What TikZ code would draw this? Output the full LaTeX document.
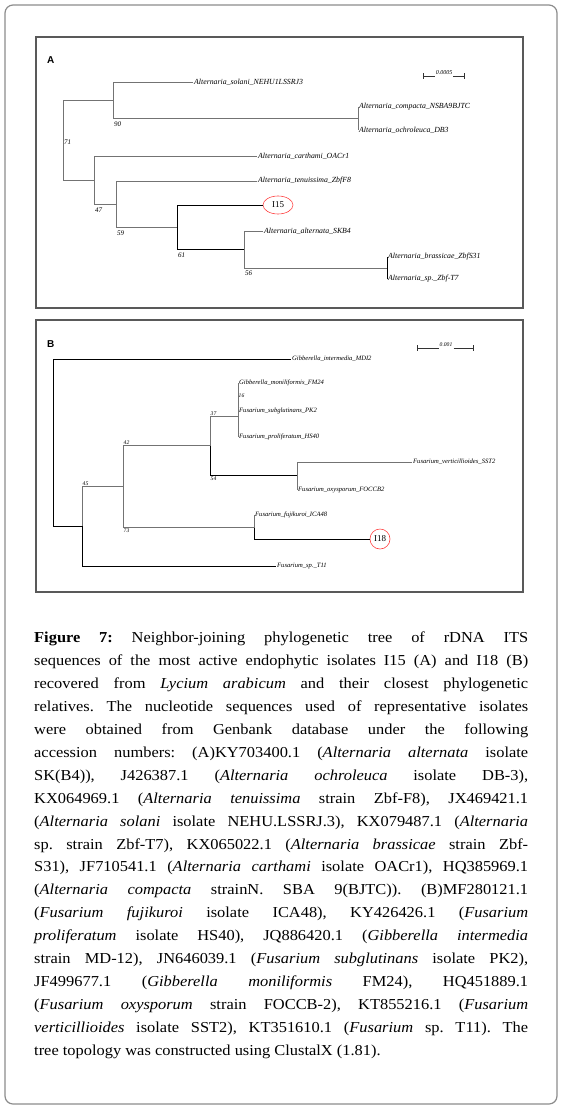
\documentclass[tikz,border=0pt]{standalone}
\usepackage{fontspec}
\setmainfont{Liberation Serif}
\newfontfamily\panelfont{Liberation Sans}
\newfontfamily\captionfont{Liberation Serif}[FakeStretch=1.08]
\usetikzlibrary{shapes.geometric}

\begin{document}
\begin{tikzpicture}[x=1pt,y=-1pt,
    branch/.style={draw=black!55, line width=0.8pt},
    darkbranch/.style={draw=black, line width=1pt},
    leafA/.style={anchor=west, inner sep=1pt, font=\fontsize{7.8}{8}\selectfont\itshape},
    leafB/.style={anchor=west, inner sep=1pt, font=\fontsize{6.6}{7}\selectfont\itshape},
    bootA/.style={inner sep=1pt, font=\fontsize{7}{7}\selectfont\itshape},
    bootB/.style={inner sep=0.5pt, font=\fontsize{5.6}{6}\selectfont\itshape},
    panelbox/.style={draw=black!65, line width=1.6pt},
    panellabel/.style={anchor=west, inner sep=0pt, font=\panelfont\bfseries\fontsize{10}{10}\selectfont},
    isolate/.style={draw=red!75, line width=0.6pt, inner sep=0pt, font=\fontsize{9}{9}\selectfont},
    scalebar/.style={draw=black!80, line width=0.6pt}]

    \useasboundingbox (0,0) rectangle (562,1109);
    \draw[black!45, line width=1.2pt, rounded corners=8pt] (5,5) rectangle (557,1104);

    % panel A
    \draw[panelbox] (36,37) rectangle (523,308);
    \node[panellabel] (labA) at (47,60) {A};

    \coordinate (rA) at (63,140.2);
    \coordinate (n90) at (113,100.25);
    \coordinate (cpt) at (358,118.5);
    \coordinate (n47) at (94,180.2);
    \coordinate (n59) at (116,204.4);
    \coordinate (n61) at (177,227.75);
    \coordinate (n56) at (244,249.5);
    \coordinate (nbr) at (387,268);

    \node[leafA] (solani) at (193,82) {Alternaria\_solani\_NEHU1LSSRJ3};
    \node[leafA] (compacta) at (358,107) {Alternaria\_compacta\_NSBA9BJTC};
    \node[leafA] (ochro) at (358,130) {Alternaria\_ochroleuca\_DB3};
    \node[leafA] (carthami) at (257,156) {Alternaria\_carthami\_OACr1};
    \node[leafA] (tenuis) at (257,181) {Alternaria\_tenuissima\_ZbfF8};
    \node[isolate, ellipse, minimum width=30pt, minimum height=18pt] (i15) at (278,205) {I15};
    \node[leafA] (altern) at (263,231) {Alternaria\_alternata\_SKB4};
    \node[leafA] (brass) at (387,257) {Alternaria\_brassicae\_ZbfS31};
    \node[leafA] (altsp) at (387,279) {Alternaria\_sp.\_Zbf-T7};

    \draw[branch] (rA) |- (n90);
    \draw[branch] (rA) |- (n47);
    \draw[branch] (n90) |- (solani.west);
    \draw[branch] (n90) |- (cpt);
    \draw[branch] (cpt) |- (compacta.west);
    \draw[branch] (cpt) |- (ochro.west);
    \draw[branch] (n47) |- (carthami.west);
    \draw[branch] (n47) |- (n59);
    \draw[branch] (n59) |- (tenuis.west);
    \draw[branch] (n59) |- (n61);
    \draw[darkbranch] (n61) |- (i15.west);
    \draw[darkbranch] (n61) |- (n56);
    \draw[branch] (n56) |- (altern.west);
    \draw[branch] (n56) |- (nbr);
    \draw[darkbranch] (nbr) |- (brass.west);
    \draw[darkbranch] (nbr) |- (altsp.west);

    \node[bootA, anchor=west] (b71) at ([yshift=-2pt]rA) {71};
    \node[bootA, anchor=north west, yshift=-2pt] (b90) at (n90 |- cpt) {90};
    \node[bootA, anchor=north west, yshift=-2pt] (b47) at (n47 |- n59) {47};
    \node[bootA, anchor=north west, yshift=-2pt] (b59) at (n59 |- n61) {59};
    \node[bootA, anchor=north west, yshift=-2pt] (b61) at (n61 |- n56) {61};
    \node[bootA, anchor=north west, yshift=-2pt] (b56) at (n56 |- nbr) {56};

    % scale A
    \coordinate (sa1) at (423,76);
    \coordinate (sa2) at (465,76);
    \node[inner sep=1pt, font=\fontsize{6}{6}\selectfont\itshape] (scaleA) at (444,73) {0.0005};
    \draw[scalebar, |-] (sa1) -- (scaleA.west |- sa1);
    \draw[scalebar, -|] (scaleA.east |- sa2) -- (sa2);

    % panel B
    \draw[panelbox] (36,320) rectangle (523,592);
    \node[panellabel] (labB) at (47,344) {B};

    \coordinate (rB) at (53,442.5);
    \coordinate (n45) at (82,526);
    \coordinate (n42) at (123,486.5);
    \coordinate (n37) at (210,445.5);
    \coordinate (n16) at (238,416);
    \coordinate (n54) at (297,475);
    \coordinate (n73) at (254,527.5);

    \node[leafB] (interm) at (291,359) {Gibberella\_intermedia\_MDI2};
    \node[leafB] (monil) at (238,383) {Gibberella\_moniliformis\_FM24};
    \node[leafB] (subglu) at (238,411) {Fusarium\_subglutinans\_PK2};
    \node[leafB] (prolif) at (238,437) {Fusarium\_proliferatum\_HS40};
    \node[leafB] (vertic) at (412,462) {Fusarium\_verticillioides\_SST2};
    \node[leafB] (oxysp) at (297,490) {Fusarium\_oxysporum\_FOCCB2};
    \node[leafB] (fujik) at (254,515) {Fusarium\_fujikuroi\_ICA48};
    \node[isolate, circle, minimum size=20pt] (i18) at (380,539) {I18};
    \node[leafB] (fussp) at (276,566) {Fusarium\_sp.\_T11};

    \draw[darkbranch] (rB) |- (interm.west);
    \draw[darkbranch] (rB) |- (n45);
    \draw[branch] (n45) |- (n42);
    \draw[darkbranch] (n45) |- (fussp.west);
    \draw[branch] (n42) |- (n37);
    \draw[branch] (n42) |- (n73);
    \draw[branch] (n37) |- (n16);
    \draw[darkbranch] (n37) |- (n54);
    \draw[branch] (n16) |- (monil.west);
    \draw[branch] (n16) |- (subglu.west);
    \draw[branch] (n16) |- (prolif.west);
    \draw[branch] (n54) |- (vertic.west);
    \draw[branch] (n54) |- (oxysp.west);
    \draw[branch] (n73) |- (fujik.west);
    \draw[darkbranch] (n73) |- (i18.west);

    \node[bootB, anchor=south west] (b45) at (n45 |- n42) {45};
    \node[bootB, anchor=south west] (b42) at (n42 |- n37) {42};
    \node[bootB, anchor=south west] (b37) at (n37 |- n16) {37};
    \node[bootB, anchor=west] (b16) at (238,396) {16};
    \node[bootB, anchor=north west, yshift=-1pt] (b54) at (n37 |- n54) {54};
    \node[bootB, anchor=north west, yshift=-1pt] (b73) at (n42 |- n73) {73};

    % scale B
    \coordinate (sb1) at (417,348);
    \coordinate (sb2) at (474,348);
    \node[inner sep=1pt, font=\fontsize{5.6}{6}\selectfont\itshape] (scaleB) at (446,345) {0.001};
    \draw[scalebar, |-] (sb1) -- (scaleB.west |- sb1);
    \draw[scalebar, -|] (scaleB.east |- sb2) -- (sb2);

    % caption
    \node[anchor=north west, inner sep=0pt, text width=494pt, align=justify,
          font=\captionfont\fontsize{15.2}{22.9}\selectfont\frenchspacing] (caption) at (34,632)
    {\tolerance=9999 \hyphenpenalty=10000
    \textbf{Figure 7:} Neighbor-joining phylogenetic tree of rDNA ITS\linebreak
    sequences of the most active endophytic isolates I15 (A) and I18 (B)\linebreak
    recovered from \textit{Lycium arabicum} and their closest phylogenetic\linebreak
    relatives. The nucleotide sequences used of representative isolates\linebreak
    were obtained from Genbank database under the following\linebreak
    accession numbers: (A)KY703400.1 (\textit{Alternaria alternata} isolate\linebreak
    SK(B4)), J426387.1 (\textit{Alternaria ochroleuca} isolate DB-3),\linebreak
    KX064969.1 (\textit{Alternaria tenuissima} strain Zbf-F8), JX469421.1\linebreak
    (\textit{Alternaria solani} isolate NEHU.LSSRJ.3), KX079487.1 (\textit{Alternaria}\linebreak
    sp. strain Zbf-T7), KX065022.1 (\textit{Alternaria brassicae} strain Zbf-\linebreak
    S31), JF710541.1 (\textit{Alternaria carthami} isolate OACr1), HQ385969.1\linebreak
    (\textit{Alternaria compacta} strainN. SBA 9(BJTC)). (B)MF280121.1\linebreak
    (\textit{Fusarium fujikuroi} isolate ICA48), KY426426.1 (\textit{Fusarium}\linebreak
    \textit{proliferatum} isolate HS40), JQ886420.1 (\textit{Gibberella intermedia}\linebreak
    strain MD-12), JN646039.1 (\textit{Fusarium subglutinans} isolate PK2),\linebreak
    JF499677.1 (\textit{Gibberella moniliformis} FM24), HQ451889.1\linebreak
    (\textit{Fusarium oxysporum} strain FOCCB-2), KT855216.1 (\textit{Fusarium}\linebreak
    \textit{verticillioides} isolate SST2), KT351610.1 (\textit{Fusarium} sp. T11). The\linebreak
    tree topology was constructed using ClustalX (1.81).};
\end{tikzpicture}
\end{document}
